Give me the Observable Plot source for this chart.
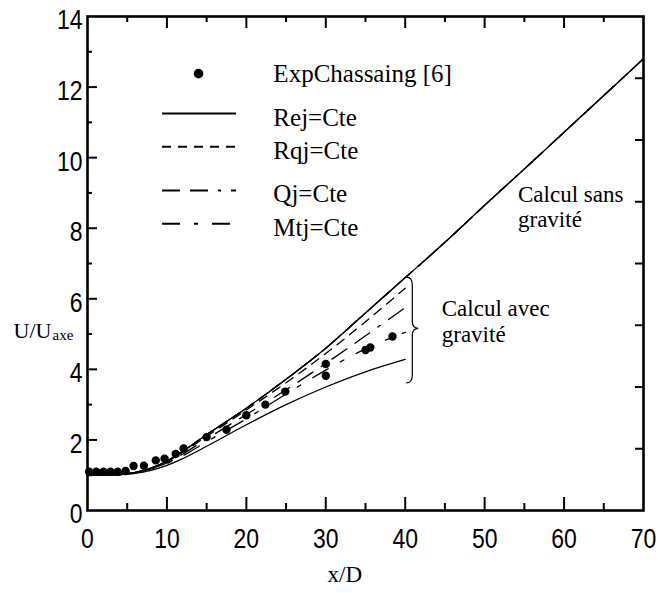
<!DOCTYPE html>
<html><head><meta charset="utf-8">
<script src="https://cdn.jsdelivr.net/npm/d3@7"></script>
<script src="https://cdn.jsdelivr.net/npm/@observablehq/plot@0.6"></script>
<style>body{margin:0;background:#fff} svg{display:block}</style>
</head><body><div id="chart"></div>
<script>
// ---- data ----
const xGrav = [0, 2, 4, 6, 8, 10, 12, 15, 20, 25, 30, 35, 40];
const xSans = [0, 2, 4, 6, 8, 10, 12, 15, 20, 25, 30, 35, 40, 45, 50, 55, 60, 65, 70];
const ySans = [1.0, 1.0, 1.02, 1.08, 1.2, 1.4, 1.68, 2.15, 2.9, 3.72, 4.6, 5.6, 6.6, 7.6, 8.65, 9.68, 10.72, 11.76, 12.8];
const yRej = [1.0, 1.0, 1.01, 1.05, 1.14, 1.28, 1.47, 1.82, 2.43, 3.0, 3.5, 3.93, 4.28];
const yRqj = [1.0, 1.0, 1.02, 1.08, 1.2, 1.38, 1.65, 2.1, 2.85, 3.62, 4.45, 5.35, 6.3];
const yQj  = [1.0, 1.0, 1.02, 1.08, 1.19, 1.35, 1.6, 2.03, 2.72, 3.42, 4.17, 4.95, 5.75];
const yMtj = [1.0, 1.0, 1.02, 1.07, 1.18, 1.33, 1.55, 1.95, 2.6, 3.3, 3.98, 4.58, 5.05];
const expX = [0.2, 1.1, 2.0, 2.9, 3.8, 4.8, 5.8, 7.1, 8.6, 9.7, 11.1, 12.1, 15.0, 17.5, 20.0, 22.4, 24.9, 30.0, 30.0, 35.0, 35.6, 38.4];
const expY = [1.1, 1.1, 1.1, 1.1, 1.1, 1.12, 1.26, 1.27, 1.42, 1.47, 1.6, 1.76, 2.08, 2.29, 2.7, 3.0, 3.37, 4.15, 3.82, 4.55, 4.62, 4.93];
const seriesNames = ["Rej=Cte", "Rqj=Cte", "Qj=Cte", "Mtj=Cte"];
const expName = "ExpChassaing [6]";
const xTicks = [0, 10, 20, 30, 40, 50, 60, 70];
const xMinor = [5, 15, 25, 35, 45, 55, 65];
const yTicks = [0, 2, 4, 6, 8, 10, 12, 14];
const yMinor = [1, 3, 5, 7, 9, 11, 13];
const rightTicks = [1.75, 3.5, 5.25, 7, 8.75, 10.5, 12.25];
const xLabel = "x/D";
const yLabelMain = "U/U";
const yLabelSub = "axe";
const noteSans = "Calcul sans\ngravité";
const noteAvec = "Calcul avec\ngravité";

// ---- styles ----
const dashes = [null, "9,7", "18,10,18,10,3,10", "18,14,4,14"];
const gravSeries = [yRej, yRqj, yQj, yMtj];
const serif = "'Liberation Serif','Times New Roman',serif";
const sans = "'Liberation Sans',Arial,sans-serif";

// legend placement (data units)
const legX1 = 9.45, legX2 = 18.77, legTextX = 23.4, legDotX = 13.98;
const legExpY = 12.38;
const legRowsY = [11.25, 10.31, 9.07, 8.13];

const toPts = (xs, ys) => xs.map((x, i) => ({x, y: ys[i]}));
const exp = toPts(expX, expY);

const marks = [];
dashes.forEach(d => marks.push(Plot.line(toPts(xSans, ySans), {x: "x", y: "y", stroke: "black", strokeWidth: 1.3, curve: "catmull-rom", strokeDasharray: d || undefined})));
gravSeries.forEach((ys, i) => marks.push(Plot.line(toPts(xGrav, ys), {x: "x", y: "y", stroke: "black", strokeWidth: 1.3, curve: "catmull-rom", strokeDasharray: dashes[i] || undefined})));
marks.push(Plot.dot(exp, {x: "x", y: "y", r: 4.2, fill: "black", stroke: "none"}));

marks.push(Plot.frame({stroke: "black", strokeWidth: 2.6}));
marks.push(Plot.ruleX(xTicks.slice(1, -1), {x: d => d, y1: 0, y2: 0, insetTop: -13, stroke: "black", strokeWidth: 2}));
marks.push(Plot.ruleX(xMinor, {x: d => d, y1: 0, y2: 0, insetTop: -7, stroke: "black", strokeWidth: 2}));
marks.push(Plot.ruleX(xTicks.slice(1, -1), {x: d => d, y1: 14, y2: 14, insetBottom: -12, stroke: "black", strokeWidth: 2}));
marks.push(Plot.ruleX(xMinor, {x: d => d, y1: 14, y2: 14, insetBottom: -6, stroke: "black", strokeWidth: 2}));
marks.push(Plot.ruleY(yTicks.slice(1, -1), {y: d => d, x1: 0, x2: 0, insetRight: -10, stroke: "black", strokeWidth: 2}));
marks.push(Plot.ruleY(yMinor, {y: d => d, x1: 0, x2: 0, insetRight: -5, stroke: "black", strokeWidth: 2}));
marks.push(Plot.ruleY(rightTicks, {y: d => d, x1: 70, x2: 70, insetLeft: -8, stroke: "black", strokeWidth: 2}));

marks.push(Plot.text(xTicks, {x: d => d, y: 0, dy: 29, text: d => String(d), fontFamily: sans, fontSize: 28, fill: "black"}));
marks.push(Plot.text(yTicks, {x: 0, y: d => d, dx: -5, dy: 4, textAnchor: "end", text: d => String(d), fontFamily: sans, fontSize: 28, fill: "black"}));

marks.push(Plot.text([xLabel], {x: 32.4, y: 0, dy: 64, text: d => d, fontFamily: serif, fontSize: 23, fill: "black"}));
marks.push(Plot.text([yLabelMain], {x: 0, y: 5.1, dx: -36, textAnchor: "end", text: d => d, fontFamily: serif, fontSize: 22, fill: "black"}));
marks.push(Plot.text([yLabelSub], {x: 0, y: 5.1, dx: -35, dy: 5, textAnchor: "start", text: d => d, fontFamily: serif, fontSize: 15, fill: "black"}));

marks.push(Plot.dot([legExpY], {x: legDotX, y: d => d, r: 4.8, fill: "black", stroke: "none"}));
marks.push(Plot.text([expName], {x: legTextX, y: legExpY, textAnchor: "start", text: d => d, fontFamily: serif, fontSize: 25, fill: "black"}));
seriesNames.forEach((name, i) => {
  marks.push(Plot.ruleY([legRowsY[i]], {y: d => d, x1: legX1, x2: legX2, stroke: "black", strokeWidth: 2, strokeDasharray: dashes[i] || undefined}));
  marks.push(Plot.text([name], {x: legTextX, y: legRowsY[i], dy: 4, textAnchor: "start", text: d => d, fontFamily: serif, fontSize: 25, fill: "black"}));
});

marks.push(Plot.text([noteSans], {x: 54.2, y: 8.61, textAnchor: "start", lineAnchor: "middle", lineHeight: 1.08, text: d => d, fontFamily: serif, fontSize: 23, fill: "black"}));
marks.push(Plot.text([noteAvec], {x: 44.6, y: 5.38, textAnchor: "start", lineAnchor: "middle", lineHeight: 1.12, text: d => d, fontFamily: serif, fontSize: 23, fill: "black"}));
const braceX = 40.2, braceTop = 6.6, braceBottom = 3.6, braceMid = 5.15;
marks.push((index, scales) => {
  const {x, y} = scales;
  const x0 = x(braceX), y0 = y(braceTop), y1 = y(braceBottom), ym = y(braceMid), w = 6;
  const p = `M${x0},${y0}Q${x0 + w},${y0} ${x0 + w},${y0 + 8}L${x0 + w},${ym - 7}Q${x0 + w},${ym} ${x0 + 2 * w},${ym}Q${x0 + w},${ym} ${x0 + w},${ym + 7}L${x0 + w},${y1 - 8}Q${x0 + w},${y1} ${x0},${y1}`;
  return d3.create("svg:path").attr("d", p).attr("fill", "none").attr("stroke", "black").attr("stroke-width", 1.2).node();
});

const chart = Plot.plot({
  width: 672, height: 593,
  marginLeft: 87, marginRight: 29, marginTop: 16, marginBottom: 83,
  x: {domain: [0, 70], axis: null},
  y: {domain: [0, 14], axis: null},
  style: {background: "white", color: "black", overflow: "visible"},
  marks
});
// narrow the numeric tick labels horizontally (the original uses a condensed face)
const numeric = new Set([...xTicks, ...yTicks].map(String));
chart.querySelectorAll("text").forEach(el => {
  if (!numeric.has(el.textContent.trim())) return;
  const t = el.getAttribute("transform") || "";
  const x = el.getAttribute("x");
  let base = t;
  if (x != null && x !== "" && !isNaN(+x)) {
    base += ` translate(${+x},0)`;
    el.removeAttribute("x");
  }
  el.setAttribute("transform", (base + " scale(0.82,1)").trim());
});
document.getElementById("chart").appendChild(chart);
</script></body></html>
